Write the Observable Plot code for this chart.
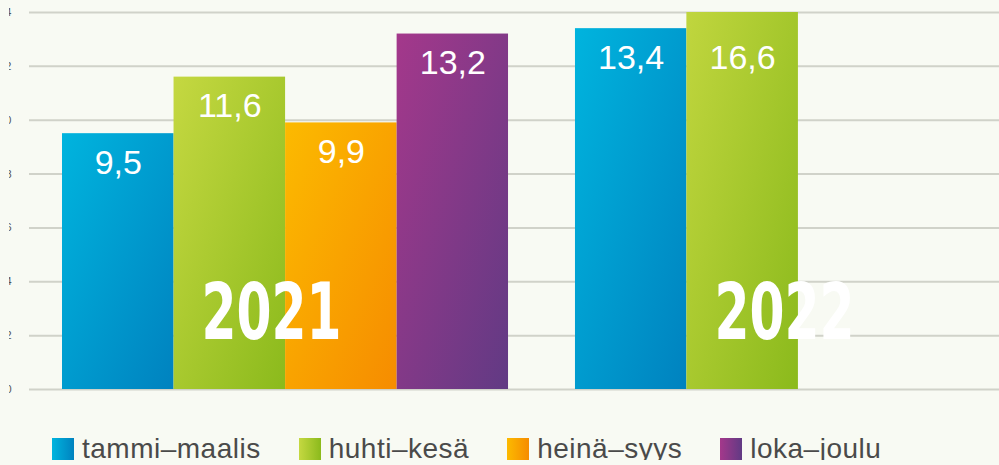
<!DOCTYPE html>
<html><head><meta charset="utf-8">
<script src="https://cdn.jsdelivr.net/npm/d3@7"></script>
<script src="https://cdn.jsdelivr.net/npm/@observablehq/plot@0.6"></script>
<style>
html,body{margin:0;padding:0;background:#f8faf3;}
#chart{position:relative;width:999px;height:420px;}
#chart svg{position:absolute;left:0;top:0;}
#legend{display:flex;align-items:center;margin-top:18px;padding-left:52px;font-family:"Liberation Sans",Arial,sans-serif;font-size:28px;letter-spacing:0.5px;color:#4a4a4a;height:22px;}
.item{display:flex;align-items:center;margin-right:38px;white-space:nowrap;}
.sw{width:22px;height:22px;margin-right:8px;flex:none;}
</style></head><body>
<div id="chart"></div><div id="legend"></div>
<script>
const quarters = ["tammi–maalis", "huhti–kesä", "heinä–syys", "loka–joulu"];
const years = ["2021", "2022"];
const values2021 = [9.5, 11.6, 9.9, 13.2];
const values2022 = [13.4, 16.6];
const yTicks = [0, 2, 4, 6, 8, 10, 12, 14];
const yMax = 14;
const gradientColors = [
  ["#00b4de", "#0082bf"],
  ["#c5d841", "#8bba1c"],
  ["#fcba00", "#f68c00"],
  ["#a4388b", "#613a84"]
];

const rows = [
  ...values2021.map((v, i) => ({year: years[0], quarter: quarters[i], value: v})),
  ...values2022.map((v, i) => ({year: years[1], quarter: quarters[i], value: v}))
];
const fmt = v => v.toFixed(1).replace(".", ",");
const gradIds = quarters.map((q, i) => "grad" + i);
const font = "'Liberation Sans', Arial, sans-serif";

const bg = Plot.plot({
  width: 999, height: 420,
  marginTop: 12, marginBottom: 31, marginLeft: 29, marginRight: 0,
  style: {background: "transparent"},
  x: {axis: null},
  y: {domain: [0, yMax], axis: null},
  marks: [
    Plot.ruleY(yTicks, {y: d => d, stroke: "#d0d2c9", strokeWidth: 2}),
    Plot.text(yTicks, {y: d => d, text: d => String(d), frameAnchor: "left", textAnchor: "end", dx: -18, fontSize: 11, fill: "#555", fontFamily: font})
  ]
});
bg.style.clipPath = "inset(0 0 0 9px)";

const fg = Plot.plot({
  width: 999, height: 420,
  marginTop: 12, marginBottom: 31, marginLeft: 62, marginRight: -22,
  style: {background: "transparent"},
  facet: {data: rows, x: "year"},
  fx: {domain: years, paddingInner: 0.13, paddingOuter: 0, round: false, axis: null, label: null},
  x: {domain: quarters, padding: 0, round: false, axis: null},
  y: {domain: [0, yMax], axis: null},
  color: {domain: quarters, range: gradIds.map(id => `url(#${id})`)},
  marks: [
    Plot.barY(rows, {x: "quarter", y: "value", fill: "quarter", clip: true}),
    Plot.text(rows, {x: "quarter", y: d => Math.min(d.value, yMax - 0.6), text: d => fmt(d.value), fill: "white", fontSize: 34, dy: 29, fontFamily: font}),
    Plot.text(rows, {filter: d => d.quarter === quarters[0], text: "year", frameAnchor: "bottom", dy: -51, dx: -14, fill: "white", fontSize: 78, fontWeight: 700, fontFamily: "'Liberation Sans Narrow', 'DejaVu Sans Condensed', sans-serif"})
  ]
});

const defs = d3.select(fg).insert("defs", ":first-child");
gradientColors.forEach((c, i) => {
  const g = defs.append("linearGradient").attr("id", gradIds[i])
    .attr("x1", 0).attr("y1", 0).attr("x2", 1).attr("y2", 1);
  g.append("stop").attr("offset", "0%").attr("stop-color", c[0]);
  g.append("stop").attr("offset", "100%").attr("stop-color", c[1]);
});
d3.select(fg).selectAll("text").filter(function() { return years.includes(this.textContent); })
  .attr("textLength", 140).attr("lengthAdjust", "spacingAndGlyphs");

const chart = document.getElementById("chart");
chart.appendChild(bg);
chart.appendChild(fg);

const legend = d3.select("#legend");
quarters.forEach((q, i) => {
  const it = legend.append("div").attr("class", "item");
  it.append("div").attr("class", "sw").style("background", `linear-gradient(to right, ${gradientColors[i][0]}, ${gradientColors[i][1]})`);
  it.append("span").text(q);
});
</script>
</body></html>
